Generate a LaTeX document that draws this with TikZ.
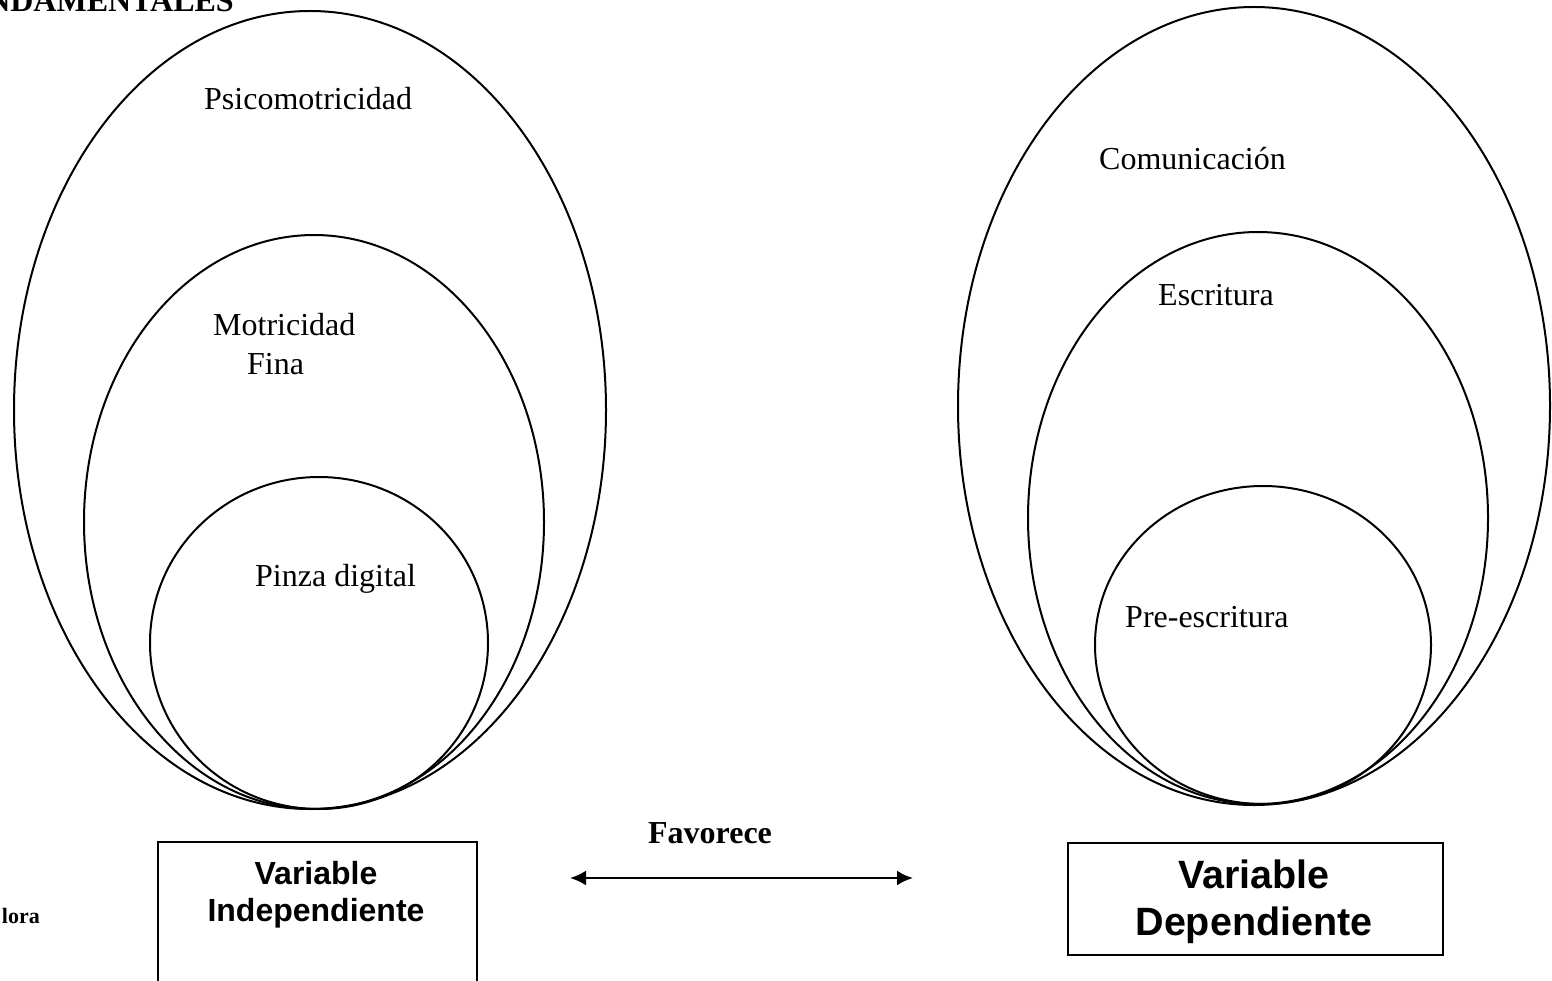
\documentclass[tikz,border=0pt]{standalone}
\usepackage{fontspec}
\setmainfont{Liberation Serif}
\newfontfamily\arialfont{Liberation Sans}
\usetikzlibrary{arrows.meta}
\tikzset{
  ring/.style={line width=2pt},
  lbl/.style={anchor=base west, inner sep=0pt, font=\fontsize{32}{38}\selectfont},
  boxframe/.style={draw, line width=2pt, anchor=north west, inner sep=0pt},
  boxtxt/.style={anchor=base, inner sep=0pt, font=\arialfont\bfseries\fontsize{32}{38}\selectfont},
  bigboxtxt/.style={anchor=base, inner sep=0pt, font=\arialfont\bfseries\fontsize{39.5}{46}\selectfont},
  link/.style={line width=2.5pt, {Latex[length=16pt,width=15pt]}-{Latex[length=16pt,width=15pt]}}
}
\begin{document}
\begin{tikzpicture}[x=1pt,y=-1pt]
\useasboundingbox (0,0) rectangle (1552,981);
% left ellipses
\draw[ring] (310,410) ellipse [x radius=296pt, y radius=399pt];
\draw[ring] (314,522) ellipse [x radius=230pt, y radius=287pt];
\draw[ring] (319,643) ellipse [x radius=169pt, y radius=166pt];
% right ellipses
\draw[ring] (1254,406) ellipse [x radius=296pt, y radius=399pt];
\draw[ring] (1258,518) ellipse [x radius=230pt, y radius=286pt];
\draw[ring] (1263,645) ellipse [x radius=168pt, y radius=159pt];
% labels
\node[lbl] (psico) at (204,110) {Psicomotricidad};
\node[lbl] (motri) at (213,336) {Motricidad};
\node[lbl] (fina) at (247,374) {Fina};
\node[lbl] (pinza) at (255,586) {Pinza digital};
\node[lbl] (comun) at (1099,170) {Comunicación};
\node[lbl] (escri) at (1158,306) {Escritura};
\node[lbl] (pre) at (1125,627) {Pre-escritura};
% title fragments
\node[anchor=base east, inner sep=0pt, font=\bfseries\fontsize{32}{38}\selectfont] (fund) at (234,12) {NDAMENTALES};
\node[anchor=base east, inner sep=0pt, font=\bfseries\fontsize{22}{26}\selectfont] (lora) at (40,923) {lora};
% boxes
\node[boxframe, minimum width=319pt, minimum height=170pt] (vi) at (157,841) {};
\node[boxtxt] (vi1) at (316,884) {Variable};
\node[boxtxt] (vi2) at (316,921) {Independiente};
\node[boxframe, minimum width=375pt, minimum height=112pt] (vd) at (1067,842) {};
\node[bigboxtxt] (vd1) at (1254,888) {Variable};
\node[bigboxtxt] (vd2) at (1254,935) {Dependiente};
% arrow
\coordinate (aL) at (570,878);
\coordinate (aR) at (913,878);
\draw[link] (aL) -- (aR);
\node[anchor=base, inner sep=0pt, font=\bfseries\fontsize{32}{38}\selectfont] (fav) at (710,843) {Favorece};
\end{tikzpicture}
\end{document}
